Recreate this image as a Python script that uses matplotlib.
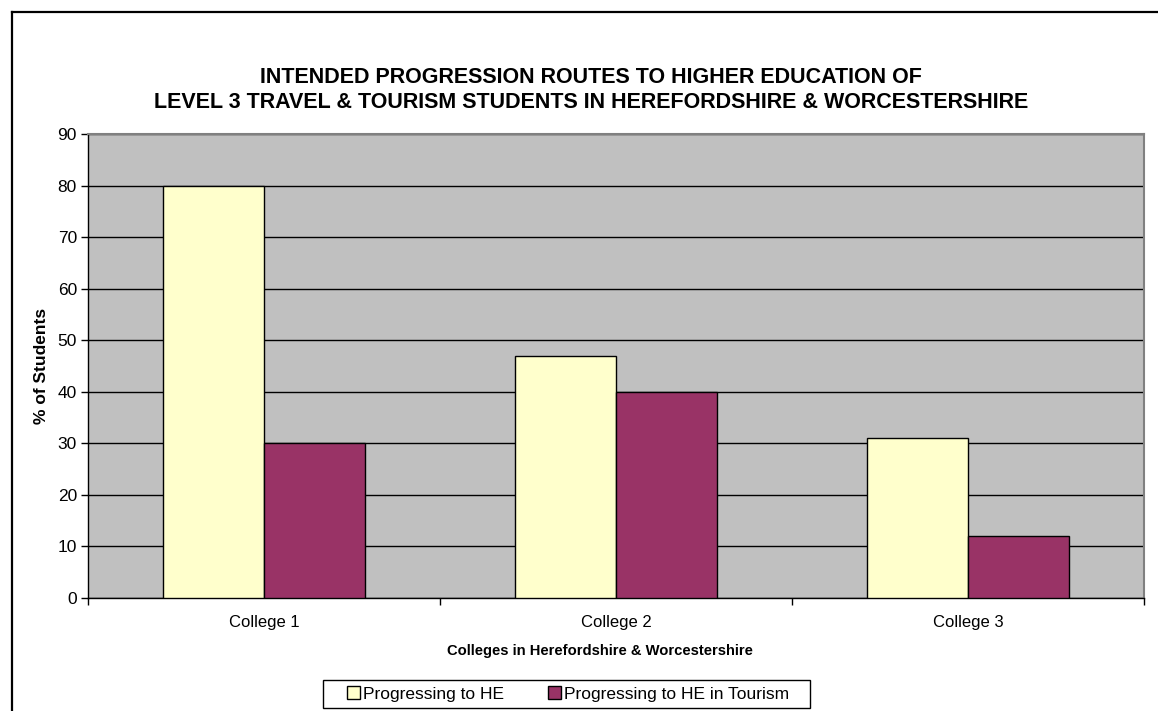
import matplotlib
matplotlib.use("Agg")
import matplotlib.pyplot as plt
from matplotlib.lines import Line2D
from matplotlib.patches import Rectangle
import numpy as np

categories = ["College 1", "College 2", "College 3"]
series_names = ["Progressing to HE", "Progressing to HE in Tourism"]
he_values = [80, 47, 31]
tourism_values = [30, 40, 12]
yticks = [0, 10, 20, 30, 40, 50, 60, 70, 80, 90]

plt.rcParams['font.family'] = ['Liberation Sans', 'DejaVu Sans']

W, H = 1158, 711
fig = plt.figure(figsize=(W / 100, H / 100), dpi=100)
fig.patch.set_facecolor("white")

def fx(px):
    return px / W

def fy(py):
    return 1 - py / H

ax = fig.add_axes([fx(88), fy(598), fx(1144) - fx(88), fy(134) - fy(598)])
ax.set_facecolor("#C0C0C0")

x = np.arange(len(categories))
w = 1 / 3.5
ax.bar(x - w / 2, he_values, width=w, color="#FFFFCC", edgecolor="black", linewidth=1, label=series_names[0], zorder=3)
ax.bar(x + w / 2, tourism_values, width=w, color="#993366", edgecolor="black", linewidth=1, label=series_names[1], zorder=3)

ax.set_xlim(-0.5, len(categories) - 0.5)
ax.set_ylim(0, 90)
ax.set_yticks(yticks)
ax.yaxis.grid(True, color="black", linewidth=1, zorder=1)
ax.set_axisbelow(True)
ax.tick_params(axis="y", direction="out", length=5, width=1, labelsize=12.5, pad=3)

ax.set_xticks(np.arange(-0.5, len(categories), 1.0))
ax.set_xticklabels([])
ax.set_xticks(x, minor=True)
ax.set_xticklabels(categories, minor=True, fontsize=12)
ax.tick_params(axis="x", which="major", direction="out", length=5, width=1)
ax.tick_params(axis="x", which="minor", length=0, pad=12)

for s in ["left", "bottom"]:
    ax.spines[s].set_color("black")
    ax.spines[s].set_linewidth(1)
for s in ["top", "right"]:
    ax.spines[s].set_color("#808080")
    ax.spines[s].set_linewidth(1.5)

fig.text(fx(591), fy(90), "INTENDED PROGRESSION ROUTES TO HIGHER EDUCATION OF\nLEVEL 3 TRAVEL & TOURISM STUDENTS IN HEREFORDSHIRE & WORCESTERSHIRE",
         ha="center", va="center", fontsize=15.5, fontweight="bold", linespacing=1.3)
fig.text(fx(600), fy(651), "Colleges in Herefordshire & Worcestershire", ha="center", va="center",
         fontsize=10.6, fontweight="bold")
fig.text(fx(41), fy(366), "% of Students", ha="center", va="center", rotation=90,
         fontsize=12.5, fontweight="bold")

leg = fig.legend(loc="center left", bbox_to_anchor=(fx(347), fy(694)), ncol=2, fontsize=12.5,
                 frameon=False, handlelength=0.75, handleheight=0.75, handletextpad=0.2,
                 columnspacing=2.5, borderpad=0, borderaxespad=0)
for hnd in leg.legend_handles:
    hnd.set_edgecolor("black")
    hnd.set_linewidth(1)
fig.add_artist(Rectangle((fx(323), fy(708)), fx(810) - fx(323), fy(680) - fy(708),
                         transform=fig.transFigure, facecolor="none", edgecolor="black", linewidth=1))

fig.add_artist(Line2D([fx(11.5), fx(11.5)], [fy(11.5), 0], color="black", linewidth=1.6, transform=fig.transFigure))
fig.add_artist(Line2D([fx(11.5), 1], [fy(11.5), fy(11.5)], color="black", linewidth=1.6, transform=fig.transFigure))

fig.savefig("out.png", dpi=100)
